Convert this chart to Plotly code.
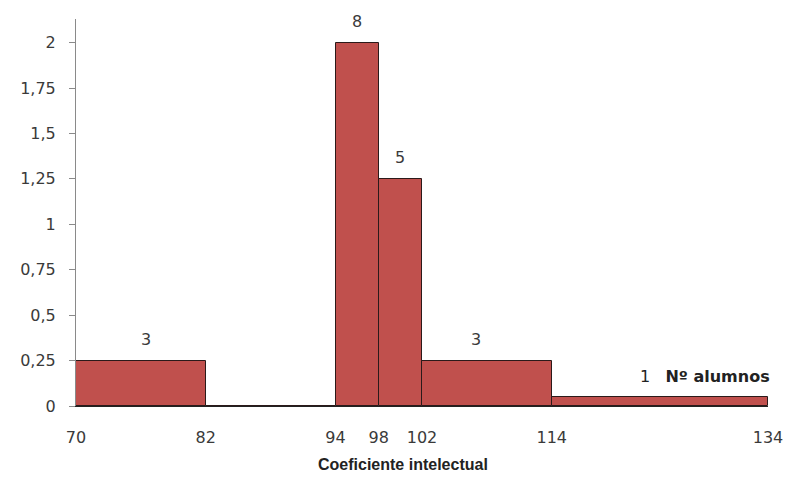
import plotly.graph_objects as go

# Data
edges = [70, 82, 94, 98, 102, 114, 134]
counts = [3, 0, 8, 5, 3, 1]
y_tick_vals = [0, 0.25, 0.5, 0.75, 1, 1.25, 1.5, 1.75, 2]
y_tick_text = ["0", "0,25", "0,5", "0,75", "1", "1,25", "1,5", "1,75", "2"]
x_tick_text = ["70", "82", "94", "98", "102", "114", "134"]
series_name = "Nº alumnos"
x_title = "Coeficiente intelectual"

# label horizontal nudges (styling, px)
label_xshift = [5, 0, 0, 0, -11, 0]

centers = [(a + b) / 2 for a, b in zip(edges[:-1], edges[1:])]
widths = [b - a for a, b in zip(edges[:-1], edges[1:])]
heights = [c / w for c, w in zip(counts, widths)]

fig = go.Figure()
fig.add_trace(go.Bar(
    x=centers, y=heights, width=widths,
    marker=dict(color="#C0504D", line=dict(color="#2b1a1a", width=1)),
    name=series_name, showlegend=False, hoverinfo="skip",
))

font_tick = dict(family="DejaVu Sans", size=16, color="#3a3a3a")

for i, (cx, h, c) in enumerate(zip(centers, heights, counts)):
    if c == 0:
        continue
    if i == len(counts) - 1:
        fig.add_annotation(
            x=cx, y=h, xref="x", yref="y", showarrow=False,
            text=f"{c}   <b>{series_name}</b>",
            font=dict(family="DejaVu Sans", size=16, color="#222"),
            xanchor="left", yanchor="middle", yshift=20, xshift=-22,
        )
    else:
        fig.add_annotation(
            x=cx, y=h, xref="x", yref="y", showarrow=False, text=str(c),
            font=font_tick, xanchor="center", yanchor="middle",
            yshift=21, xshift=label_xshift[i],
        )

fig.add_annotation(
    x=0.4725, y=-0.15, xref="paper", yref="paper", showarrow=False,
    text=f"<b>{x_title}</b>",
    font=dict(family="Liberation Sans", size=16, color="#222"),
    xanchor="center", yanchor="middle",
)

fig.update_xaxes(
    range=[edges[0], edges[-1]], tickvals=edges, ticktext=x_tick_text,
    showgrid=False, zeroline=False, showline=True, linecolor="#222", linewidth=1,
    ticks="", tickfont=font_tick, ticklabelstandoff=17,
)
fig.update_yaxes(
    range=[0, 2.13], tickvals=y_tick_vals, ticktext=y_tick_text,
    showgrid=False, zeroline=False, showline=True, linecolor="#8a8a8a", linewidth=1,
    ticks="outside", ticklen=6, tickcolor="#8a8a8a", tickfont=font_tick,
    ticklabelstandoff=10,
)
fig.update_layout(
    width=785, height=477,
    margin=dict(l=76, r=17, t=19, b=71, autoexpand=False),
    plot_bgcolor="white", paper_bgcolor="white",
    bargap=0,
)
fig.write_html("out.html")
